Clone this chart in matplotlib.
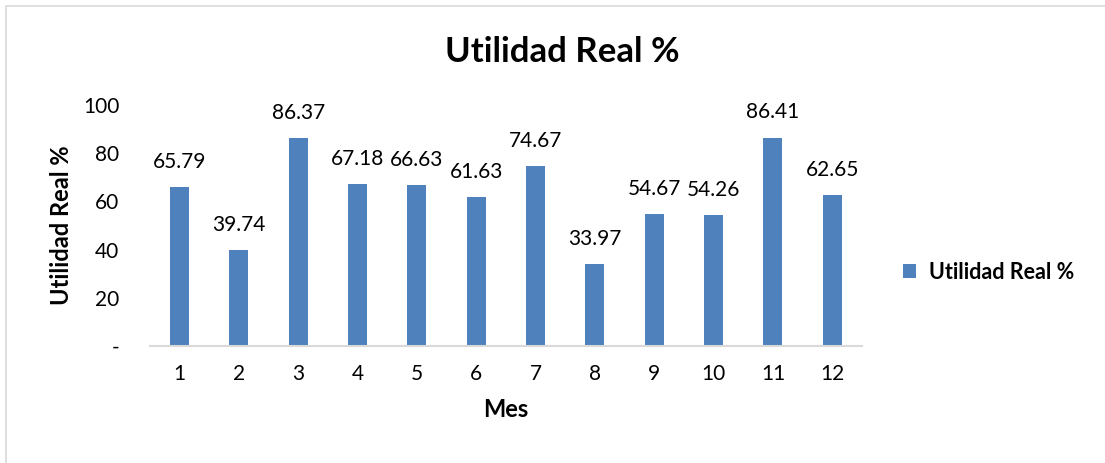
import matplotlib.pyplot as plt
from matplotlib.patches import Rectangle
from matplotlib.ticker import FuncFormatter

# data
meses = [1, 2, 3, 4, 5, 6, 7, 8, 9, 10, 11, 12]
utilidad = [65.79, 39.74, 86.37, 67.18, 66.63, 61.63, 74.67, 33.97, 54.67, 54.26, 86.41, 62.65]
y_ticks = [0, 20, 40, 60, 80, 100]

plt.rcParams['font.family'] = ['Lato', 'DejaVu Sans']

fig = plt.figure(figsize=(11.05, 4.63), dpi=100)
ax = fig.add_axes([0.1357, 0.2527, 0.6443, 0.5205])

bars = ax.bar(meses, utilidad, width=0.32, color='#4F81BD', label='Utilidad Real %')
for bar, val in zip(bars, utilidad):
    ax.annotate(f'{val:.2f}', (bar.get_x() + bar.get_width() / 2, bar.get_height()),
                xytext=(0, 11), textcoords='offset points', ha='center', va='bottom',
                fontsize=15)

ax.set_xlim(0.5, 12.5)
ax.set_ylim(0, 100)
ax.set_xticks(meses)
ax.set_yticks(y_ticks)
ax.yaxis.set_major_formatter(FuncFormatter(lambda v, p: '-' if v == 0 else f'{v:.0f}'))
ax.tick_params(axis='both', length=0, labelsize=15)
ax.tick_params(axis='x', pad=13)
ax.tick_params(axis='y', pad=22)

for side in ['top', 'right', 'left']:
    ax.spines[side].set_visible(False)
ax.spines['bottom'].set_color('#D9D9D9')
ax.spines['bottom'].set_linewidth(1.5)

ax.set_xlabel('Mes', fontsize=17, fontweight='bold', labelpad=10)
ax.set_ylabel('Utilidad Real %', fontsize=17, fontweight='bold', labelpad=7)
fig.text(0.509, 0.888, 'Utilidad Real %', ha='center', va='center', fontsize=25, fontweight='bold')

fig.legend(handles=[bars], labels=['Utilidad Real %'], loc='center left',
           bbox_to_anchor=(0.8, 0.412), frameon=False, handlelength=0.6, handleheight=0.6,
           handletextpad=0.6, prop={'weight': 'bold', 'size': 15.5})

# light frame around the chart area
fig.patches.append(Rectangle((6 / 1105, -0.1), 1.2, 1 - 6 / 463 + 0.1, transform=fig.transFigure,
                             fill=False, edgecolor='#D9D9D9', linewidth=1.2))

fig.savefig('out.png', dpi=100)
